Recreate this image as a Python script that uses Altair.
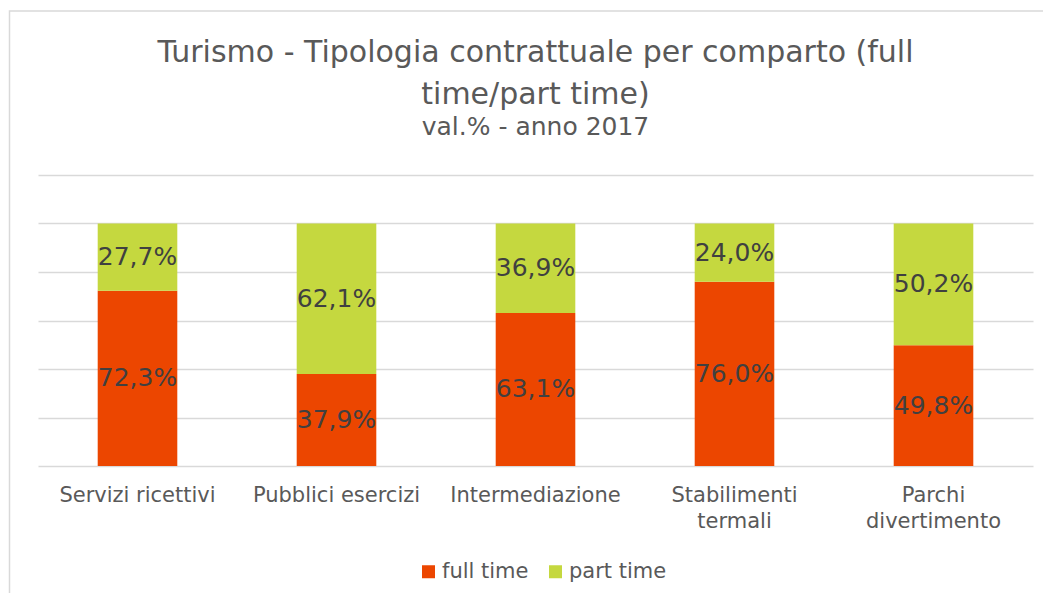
import altair as alt
import pandas as pd

categories = ["Servizi ricettivi", "Pubblici esercizi", "Intermediazione",
              "Stabilimenti\ntermali", "Parchi\ndivertimento"]
full_time = [72.3, 37.9, 63.1, 76.0, 49.8]
part_time = [27.7, 62.1, 36.9, 24.0, 50.2]
series = ["full time", "part time"]
colors = ["#EC4600", "#C5D83F"]

rows = []
for c, f, p in zip(categories, full_time, part_time):
    rows.append({"cat": c, "serie": series[0], "val": f, "ord": 0})
    rows.append({"cat": c, "serie": series[1], "val": p, "ord": 1})
df = pd.DataFrame(rows)

FONT = "DejaVu Sans"

base = alt.Chart(df).transform_stack(
    stack="val", groupby=["cat"], as_=["y0", "y1"], sort=[alt.SortField("ord")]
).transform_calculate(
    ymid="(datum.y0 + datum.y1) / 2",
    lab="replace(format(datum.val, '.1f'), '.', ',') + '%'"
)

xenc = alt.X("cat:N", sort=categories, title=None,
             scale=alt.Scale(paddingInner=0.6, paddingOuter=0.3),
             axis=alt.Axis(labelExpr="split(datum.label, '\\n')", labelAngle=0,
                           labelFontSize=21, labelColor="#595959", labelFont=FONT,
                           labelPadding=18, labelLineHeight=26, domain=False, ticks=False))

bars = base.mark_bar().encode(
    x=xenc,
    y=alt.Y("y0:Q", scale=alt.Scale(domain=[0, 120]), title=None,
            axis=alt.Axis(values=[0, 20, 40, 60, 80, 100, 120], labels=False, ticks=False,
                          domain=False, grid=True, gridColor="#d9d9d9", gridWidth=1.5)),
    y2="y1:Q",
    color=alt.Color("serie:N", scale=alt.Scale(domain=series, range=colors),
                    legend=alt.Legend(title=None, orient="none", legendX=380, legendY=386,
                                      direction="horizontal", symbolType="square",
                                      symbolSize=169, symbolStrokeWidth=0,
                                      labelFontSize=21, labelColor="#595959", labelFont=FONT,
                                      labelOffset=3, columnPadding=16)),
    order=alt.Order("ord:Q")
)

labels = base.mark_text(fontSize=25, color="#404040", font=FONT).encode(
    x=alt.X("cat:N", sort=categories),
    y=alt.Y("ymid:Q"),
    text="lab:N"
)

frame = alt.Chart(df).mark_rect(fill=None, stroke="#d9d9d9", strokeWidth=1.5, clip=False).encode(
    x=alt.value(-28.5), x2=alt.value(1007.5), y=alt.value(-164), y2=alt.value(426)
).transform_filter("datum.ord == 0 && datum.cat == 'Servizi ricettivi'")

chart = alt.layer(frame, bars, labels).properties(
    width=995, height=291,
    autosize=alt.AutoSizeParams(type="none"),
    padding={"left": 30, "top": 167, "right": 10, "bottom": 127},
    title=alt.Title(
        text=["Turismo - Tipologia contrattuale per comparto (full", "time/part time)"],
        subtitle="val.% - anno 2017",
        fontSize=30, subtitleFontSize=25, font=FONT, subtitleFont=FONT,
        color="#595959", subtitleColor="#595959", fontWeight="normal",
        lineHeight=42, subtitlePadding=5, anchor="middle", offset=-130
    )
).configure(background="white").configure_view(stroke=None)

chart.save("out.html", embed_options={"renderer": "svg", "actions": False})
